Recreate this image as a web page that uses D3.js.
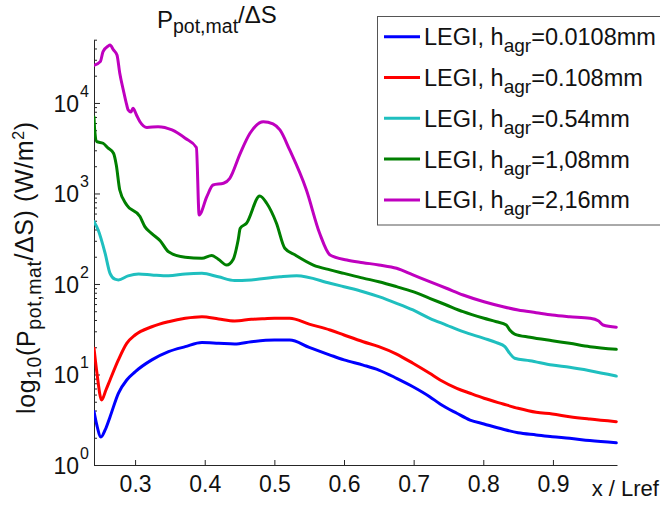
<!DOCTYPE html>
<html><head><meta charset="utf-8">
<script src="https://cdn.jsdelivr.net/npm/d3@7"></script>
<style>
html,body{margin:0;padding:0;background:#fff;}
svg{display:block;font-family:"Liberation Sans",Arial,sans-serif;}
</style></head>
<body>
<svg id="chart" width="660" height="506"></svg>
<script>
// ---------- data ----------
const seriesNames = ["0.0108mm","0.108mm","0.54mm","1,08mm","2,16mm"];
const seriesColors = ["#0000ff","#ff0000","#1fbfbf","#007f00","#bf00bf"];

const blueX = [0.241,0.245,0.251,0.257,0.264,0.276,0.288,0.300,0.324,0.348,0.372,0.396,0.420,0.443,0.467,0.500,0.522,0.550,0.580,0.600,0.6275,0.650,0.6755,0.699,0.723,0.738,0.762,0.781,0.801,0.8285,0.850,0.876,0.899,0.924,0.953,0.991];
const blueY = [3.9,2.77,2.04,2.44,3.4,6.2,8.7,10.7,14.5,17.9,20.3,22.5,22.1,21.7,23.0,24.0,24.0,19.9,16.4,14.5,12.7,11.2,9.08,7.33,5.69,4.72,3.73,3.14,2.84,2.48,2.27,2.15,2.05,1.97,1.86,1.76];

const redX = [0.241,0.245,0.252,0.258,0.264,0.276,0.288,0.300,0.324,0.348,0.372,0.396,0.420,0.443,0.467,0.486,0.500,0.522,0.550,0.580,0.600,0.6275,0.650,0.6755,0.699,0.723,0.738,0.762,0.781,0.801,0.8285,0.850,0.876,0.899,0.924,0.953,0.991];
const redY = [19.5,10.7,5.23,6.7,8.7,14.5,22.1,27.3,33.7,38.3,41.8,43.5,41.0,39.0,40.7,41.4,41.8,41.8,36.0,31.0,27.3,23.0,20.3,16.8,13.3,10.3,8.7,7.04,6.2,5.46,4.72,4.23,3.82,3.66,3.42,3.22,3.01];

const cyanX = [0.241,0.247,0.257,0.264,0.271,0.276,0.290,0.305,0.324,0.348,0.372,0.396,0.4195,0.443,0.467,0.508,0.532,0.580,0.600,0.6275,0.650,0.6755,0.699,0.723,0.747,0.771,0.801,0.819,0.831,0.838,0.845,0.867,0.899,0.924,0.953,0.991];
const cyanY = [488,395,218,131,113,111,123,129,126,123,129,131,120,109,111,120,123,102,93.3,82.2,72.4,61.2,51.6,41.8,35.2,29.7,25.1,22.5,20.3,17.1,15.1,14.2,12.7,12.0,11.0,9.6];

const greenX = [0.241,0.242,0.245,0.254,0.261,0.269,0.273,0.278,0.288,0.307,0.314,0.324,0.336,0.348,0.372,0.396,0.410,0.4195,0.4315,0.441,0.448,0.451,0.460,0.479,0.489,0.503,0.515,0.530,0.556,0.580,0.600,0.6275,0.650,0.6755,0.699,0.723,0.747,0.771,0.801,0.819,0.833,0.838,0.845,0.867,0.899,0.924,0.953,0.991];
const greenY = [7000,5030,3735,3590,3185,2780,2065,1093,747,555,430,360,300,227,197,192,206,188,162,188,306,412,469,938,780,469,248,209,162,143,131,116,106,93.4,82.2,69.5,58.6,49.4,41.8,38.3,35.2,31.0,28.0,25.8,23.6,22.1,20.3,19.0];

const magentaX = [0.241,0.250,0.254,0.2615,0.264,0.269,0.274,0.278,0.283,0.288,0.290,0.294,0.297,0.302,0.307,0.317,0.333,0.353,0.372,0.388,0.392,0.403,0.412,0.427,0.436,0.451,0.465,0.484,0.498,0.508,0.522,0.546,0.565,0.580,0.604,0.6275,0.650,0.6755,0.699,0.723,0.747,0.771,0.801,0.8285,0.850,0.876,0.899,0.924,0.953,0.965,0.972,0.991];
const magentaY = [26000,28600,36900,42600,43700,38500,33900,21300,14000,9500,8380,7960,8740,7370,6210,5360,5470,5030,4075,3225,579,922,1242,1297,1472,2780,4625,6210,5860,5030,3025,1093,363,209,184,172,162,149,126,106,89.7,75.6,63.7,56.1,51.6,48.2,45.4,43.5,41.8,39.3,35.2,33.3];

const xTicks = [0.3,0.4,0.5,0.6,0.7,0.8,0.9];
const yTickExps = [0,1,2,3,4];
const xDomain = [0.241, 0.992];
const yDomain = [1, 5e4];

// ---------- layout ----------
const L = 94, R = 617, T = 39.7, B = 465;
const svg = d3.select("#chart");
const x = d3.scaleLinear().domain(xDomain).range([L, R]);
const y = d3.scaleLog().domain(yDomain).range([B, T]);

const series = [
  {x: blueX, y: blueY},
  {x: redX, y: redY},
  {x: cyanX, y: cyanY},
  {x: greenX, y: greenY},
  {x: magentaX, y: magentaY}
];

// axes
const axisColor = "#262626";
const xAxis = d3.axisBottom(x).tickValues(xTicks).tickSizeInner(-5).tickSizeOuter(0)
  .tickPadding(10.5).tickFormat(d3.format(".1f"));
const gx = svg.append("g").attr("transform", `translate(0,${B})`).call(xAxis);
gx.select(".domain").attr("stroke", axisColor);
gx.selectAll(".tick line").attr("stroke", axisColor);
gx.selectAll(".tick text").attr("font-size", 23).attr("fill", "#111")
  .attr("font-family", "Liberation Sans, Arial, sans-serif");

const majorVals = yTickExps.map(e => Math.pow(10, e));
const minorVals = [];
for (let e = 0; e <= 4; e++) for (let m = 2; m <= 9; m++) { const v = m * Math.pow(10, e); if (v <= yDomain[1]) minorVals.push(v); }

const gyMinor = svg.append("g").attr("transform", `translate(${L},0)`)
  .call(d3.axisLeft(y).tickValues(minorVals).tickSizeInner(-3).tickSizeOuter(0).tickFormat(() => ""));
gyMinor.select(".domain").remove();
gyMinor.selectAll(".tick line").attr("stroke", axisColor);

const gy = svg.append("g").attr("transform", `translate(${L},0)`)
  .call(d3.axisLeft(y).tickValues(majorVals).tickSizeInner(-6).tickSizeOuter(0).tickFormat(() => ""));
gy.select(".domain").attr("stroke", axisColor);
gy.selectAll(".tick line").attr("stroke", axisColor);

// y tick labels 10^k
yTickExps.forEach(e => {
  const yy = y(Math.pow(10, e));
  svg.append("text").attr("x", 79).attr("y", yy + 8.6).attr("text-anchor", "end")
    .attr("font-size", 23).attr("fill", "#111").text("10");
  svg.append("text").attr("x", 80).attr("y", yy - 6.4).attr("text-anchor", "start")
    .attr("font-size", 16).attr("fill", "#111").text(String(e));
});

// lines
svg.append("clipPath").attr("id", "clip").append("rect")
  .attr("x", L).attr("y", T - 2).attr("width", R - L + 2).attr("height", B - T + 2);
const line = d3.line().x(d => x(d[0])).y(d => y(d[1])).curve(d3.curveMonotoneX);
const gl = svg.append("g").attr("clip-path", "url(#clip)");
series.forEach((s, i) => {
  const pts = s.x.map((xv, j) => [xv, s.y[j]]);
  gl.append("path").datum(pts).attr("d", line).attr("fill", "none")
    .attr("stroke", seriesColors[i]).attr("stroke-width", 3)
    .attr("stroke-linejoin", "round").attr("stroke-linecap", "round");
});

// title
const title = svg.append("text").attr("x", 157).attr("y", 28.3).attr("font-size", 24).attr("fill", "#111");
title.append("tspan").text("P");
title.append("tspan").attr("font-size", 19.5).attr("dy", 5).text("pot,mat");
title.append("tspan").attr("dy", -10).text("/ΔS");

// y label
const yl = svg.append("text").attr("transform", "translate(35,414) rotate(-90)")
  .attr("font-size", 25).attr("letter-spacing", 0.6).attr("fill", "#111");
yl.append("tspan").text("log");
yl.append("tspan").attr("font-size", 19.5).attr("dy", 6).text("10");
yl.append("tspan").attr("dy", -6).text("(P");
yl.append("tspan").attr("font-size", 19.5).attr("dy", 6).text("pot,mat");
yl.append("tspan").attr("dy", -8).text("/ΔS) (W/m");
yl.append("tspan").attr("font-size", 16).attr("dy", -9).text("2");
yl.append("tspan").attr("dy", 9).text(")");

// x label
svg.append("text").attr("x", 591.7).attr("y", 496).attr("font-size", 22).attr("fill", "#111").text("x / Lref");

// legend
const lg = svg.append("g");
lg.append("rect").attr("x", 377.5).attr("y", 16.5).attr("width", 300).attr("height", 208.5)
  .attr("fill", "#fff").attr("stroke", "#555").attr("stroke-width", 1);
seriesNames.forEach((name, i) => {
  const ly = 36.7 + i * 40.8;
  lg.append("line").attr("x1", 384).attr("x2", 420).attr("y1", ly).attr("y2", ly)
    .attr("stroke", seriesColors[i]).attr("stroke-width", 3);
  const t = lg.append("text").attr("x", 424).attr("y", ly + 8.5).attr("font-size", 23.5).attr("fill", "#111");
  t.append("tspan").text("LEGI, h");
  t.append("tspan").attr("font-size", 19).attr("dy", 7).text("agr");
  t.append("tspan").attr("dy", -7).text("=" + name);
});
</script>
</body></html>
